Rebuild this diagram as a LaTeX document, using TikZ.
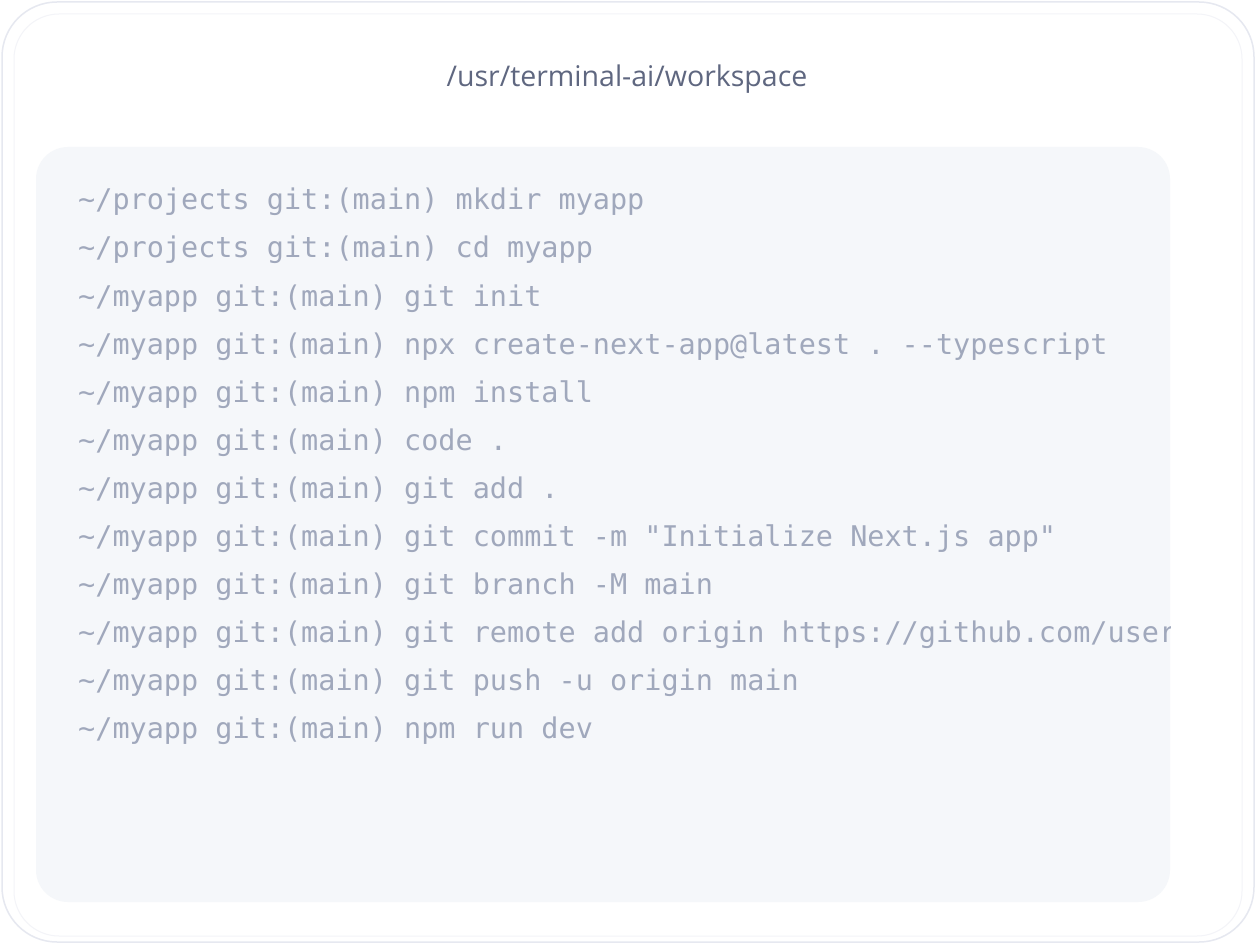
\documentclass[tikz,border=0pt]{standalone}
\usepackage{fontspec}
\setmainfont{Open Sans}
\setmonofont{DejaVu Sans Mono}
\definecolor{cardedge}{HTML}{E6E8F0}
\definecolor{panel}{HTML}{F5F7FA}
\definecolor{titlec}{HTML}{5F6780}
\definecolor{codec}{HTML}{A0A8BC}
\begin{document}
\begin{tikzpicture}[x=1pt,y=-1pt,
  line/.style={font=\fontsize{28.5}{30}\ttfamily, text=codec, anchor=base west, inner sep=0pt}]
\useasboundingbox (0,0) rectangle (1256,944);
\fill[white] (0,0) rectangle (1256,944);
\draw[cardedge, line width=1.5pt, fill=white, rounded corners=55] (2,2) rectangle (1254,942);
\draw[cardedge!50, line width=1pt, fill=white, rounded corners=45] (14,14) rectangle (1242,936);
\node[font=\fontsize{28.5}{30}\selectfont, text=titlec] (title) at (627,79) {/usr/terminal-ai/workspace};
\fill[panel, rounded corners=32] (36,147) rectangle (1170,902);
\begin{scope}
\clip (36,147) rectangle (1170,902);
\node[line] (l1) at (78,210) {\textasciitilde/projects git:(main) mkdir myapp};
\node[line] (l2) at (78,258) {\textasciitilde/projects git:(main) cd myapp};
\node[line] (l3) at (78,306) {\textasciitilde/myapp git:(main) git init};
\node[line] (l4) at (78,354) {\textasciitilde/myapp git:(main) npx create-next-app@latest . --typescript};
\node[line] (l5) at (78,402) {\textasciitilde/myapp git:(main) npm install};
\node[line] (l6) at (78,450) {\textasciitilde/myapp git:(main) code .};
\node[line] (l7) at (78,498) {\textasciitilde/myapp git:(main) git add .};
\node[line] (l8) at (78,546) {\textasciitilde/myapp git:(main) git commit -m "Initialize Next.js app"};
\node[line] (l9) at (78,594) {\textasciitilde/myapp git:(main) git branch -M main};
\node[line] (l10) at (78,642) {\textasciitilde/myapp git:(main) git remote add origin https://github.com/username/myapp.git};
\node[line] (l11) at (78,690) {\textasciitilde/myapp git:(main) git push -u origin main};
\node[line] (l12) at (78,738) {\textasciitilde/myapp git:(main) npm run dev};
\end{scope}
\end{tikzpicture}
\end{document}
